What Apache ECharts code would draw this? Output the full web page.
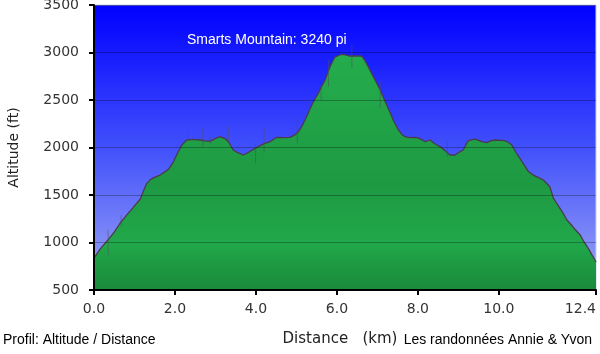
<!DOCTYPE html>
<html>
<head>
<meta charset="utf-8">
<title>Profil Smarts Mountain</title>
<script src="https://cdn.jsdelivr.net/npm/echarts@6/dist/echarts.min.js"></script>
<style>
  html, body { margin: 0; padding: 0; background: #fff; }
  #chart { width: 600px; height: 354px; }
</style>
</head>
<body>
<div id="chart"></div>
<script>
var distances = [0.00, 0.15, 0.35, 0.50, 0.64, 0.80, 0.97, 1.14, 1.22, 1.30, 1.40, 1.47, 1.63, 1.84, 1.95, 2.05, 2.17, 2.29, 2.45, 2.62,
  2.75, 2.87, 3.00, 3.11, 3.25, 3.32, 3.44, 3.55, 3.69, 3.82, 3.98, 4.10, 4.22, 4.35, 4.51, 4.65, 4.84, 4.95, 5.05, 5.13,
  5.21, 5.30, 5.38, 5.46, 5.54, 5.62, 5.71, 5.77, 5.83, 5.90, 5.95, 6.07, 6.16, 6.25, 6.32, 6.45, 6.61, 6.67, 6.73, 6.81,
  6.90, 6.98, 7.07, 7.15, 7.23, 7.31, 7.39, 7.52, 7.60, 7.68, 7.80, 7.97, 8.08, 8.18, 8.30, 8.40, 8.47, 8.55, 8.65, 8.79,
  8.92, 9.04, 9.12, 9.20, 9.25, 9.41, 9.50, 9.58, 9.70, 9.80, 9.90, 10.05, 10.15, 10.25, 10.32, 10.42, 10.52, 10.60, 10.73, 10.85,
  10.97, 11.10, 11.18, 11.26, 11.35, 11.43, 11.51, 11.60, 11.68, 11.76, 11.88, 12.01, 12.10, 12.21, 12.30, 12.35, 12.40];
var altitudes = [835, 930, 1030, 1110, 1200, 1285, 1370, 1455, 1540, 1620, 1665, 1680, 1710, 1770, 1840, 1930, 2026, 2079, 2085, 2079,
  2070, 2065, 2095, 2114, 2090, 2061, 1974, 1945, 1921, 1950, 1991, 2020, 2044, 2061, 2107, 2105, 2107, 2130, 2167, 2220,
  2289, 2370, 2447, 2510, 2570, 2640, 2711, 2780, 2851, 2910, 2950, 2974, 2980, 2970, 2963, 2965, 2963, 2930, 2886, 2820,
  2746, 2680, 2605, 2525, 2447, 2370, 2289, 2184, 2140, 2114, 2105, 2107, 2085, 2061, 2079, 2045, 2026, 2010, 1975, 1921,
  1921, 1956, 1974, 2040, 2072, 2089, 2075, 2061, 2051, 2070, 2079, 2075, 2072, 2050, 2026, 1950, 1886, 1833, 1747, 1710,
  1686, 1658, 1623, 1587, 1465, 1413, 1360, 1300, 1237, 1200, 1140, 1079, 1010, 939, 870, 834, 795];

// pics parasites du GPS : distance, bas, haut
var spikeDist = [0.35, 0.67, 2.31, 2.69, 2.87, 3.32, 3.99, 4.20, 5.02, 5.32, 5.61, 5.79, 6.37, 7.07, 8.73];
var spikeLow  = [868, 1166, 2079, 2005, 2040, 2061, 1837, 1942, 2047, 2379, 2500, 2640, 2837, 2416, 1903];
var spikeHigh = [1132, 1290, 2216, 2205, 2110, 2219, 2047, 2205, 2310, 2535, 2658, 2921, 3079, 2693, 2079];

var xTicks = [0, 2, 4, 6, 8, 10, 12.4];
var yMin = 500, yMax = 3500, yStep = 500;

var profil = distances.map(function (d, i) { return [d, altitudes[i]]; });
var spikes = spikeDist.map(function (d, i) { return [d, spikeLow[i], spikeHigh[i]]; });

var chart = echarts.init(document.getElementById('chart'));

var option = {
  animation: false,
  grid: {
    left: 94,
    right: 4,
    top: 5,
    bottom: 64,
    containLabel: false,
    outerBoundsMode: 'none',
    show: true,
    borderWidth: 1,
    borderColor: '#c9cfe6',
    backgroundColor: new echarts.graphic.LinearGradient(0, 0, 0, 1, [
      { offset: 0, color: '#0000ff' },
      { offset: 0.5, color: '#4150fb' },
      { offset: 1, color: '#a0a8f4' }
    ])
  },
  xAxis: {
    type: 'value',
    min: 0,
    max: 12.4,
    z: 5,
    name: 'Distance   (km)',
    nameLocation: 'middle',
    nameGap: 42,
    nameTextStyle: { fontFamily: 'DejaVu Sans', fontSize: 15, color: '#222', padding: [0, 10, 0, 0] },
    axisLine: { lineStyle: { color: '#000', width: 2 } },
    axisTick: { show: true, length: 5, customValues: xTicks, lineStyle: { color: '#000', width: 2 } },
    axisLabel: {
      customValues: xTicks,
      margin: 12,
      alignMaxLabel: 'right',
      fontFamily: 'DejaVu Sans',
      fontSize: 14,
      color: '#333',
      formatter: function (v) { return v.toFixed(1); }
    },
    splitLine: { show: false }
  },
  yAxis: {
    type: 'value',
    min: yMin,
    max: yMax,
    interval: yStep,
    z: 5,
    name: 'Altitude (ft)',
    nameLocation: 'middle',
    nameRotate: 90,
    nameGap: 73,
    nameTextStyle: { fontFamily: 'DejaVu Sans', fontSize: 14, color: '#222' },
    axisLine: { show: true, lineStyle: { color: '#000', width: 2 } },
    axisTick: { show: true, length: 5, lineStyle: { color: '#000', width: 2 } },
    axisLabel: {
      margin: 15,
      fontFamily: 'DejaVu Sans',
      fontSize: 14,
      color: '#333',
      formatter: function (v) { return String(v); }
    },
    splitLine: { show: true, lineStyle: { color: 'rgba(0,0,0,0.28)', width: 1 } }
  },
  series: [
    {
      type: 'line',
      data: profil,
      symbol: 'none',
      smooth: false,
      lineStyle: { color: '#4a3c4c', width: 1.3 },
      areaStyle: {
        opacity: 1,
        color: new echarts.graphic.LinearGradient(0, 0, 0, 1, [
          { offset: 0, color: '#24ad4c' },
          { offset: 0.55, color: '#1e9943' },
          { offset: 0.8, color: '#21a84a' },
          { offset: 1, color: '#1a8a3b' }
        ])
      },
      z: 2
    },
    {
      type: 'custom',
      data: spikes,
      z: 3,
      renderItem: function (params, api) {
        var p1 = api.coord([api.value(0), api.value(1)]);
        var p2 = api.coord([api.value(0), api.value(2)]);
        return {
          type: 'line',
          shape: { x1: p1[0], y1: p1[1], x2: p2[0], y2: p2[1] },
          style: { stroke: 'rgba(80,80,95,0.55)', lineWidth: 1 }
        };
      }
    }
  ],
  graphic: [
    {
      type: 'text',
      left: 187,
      top: 33,
      style: { text: 'Smarts Mountain: 3240 pi', fill: '#fff', font: '14px "Liberation Sans", Arial, sans-serif' }
    },
    {
      type: 'text',
      left: 3,
      top: 333,
      style: { text: 'Profil: Altitude / Distance', fill: '#000', font: '14px "Liberation Sans", Arial, sans-serif' }
    },
    {
      type: 'text',
      right: 8,
      top: 333,
      style: { text: 'Les randonnées Annie & Yvon', fill: '#000', font: '14px "Liberation Sans", Arial, sans-serif' }
    }
  ]
};

chart.setOption(option);
</script>
</body>
</html>
